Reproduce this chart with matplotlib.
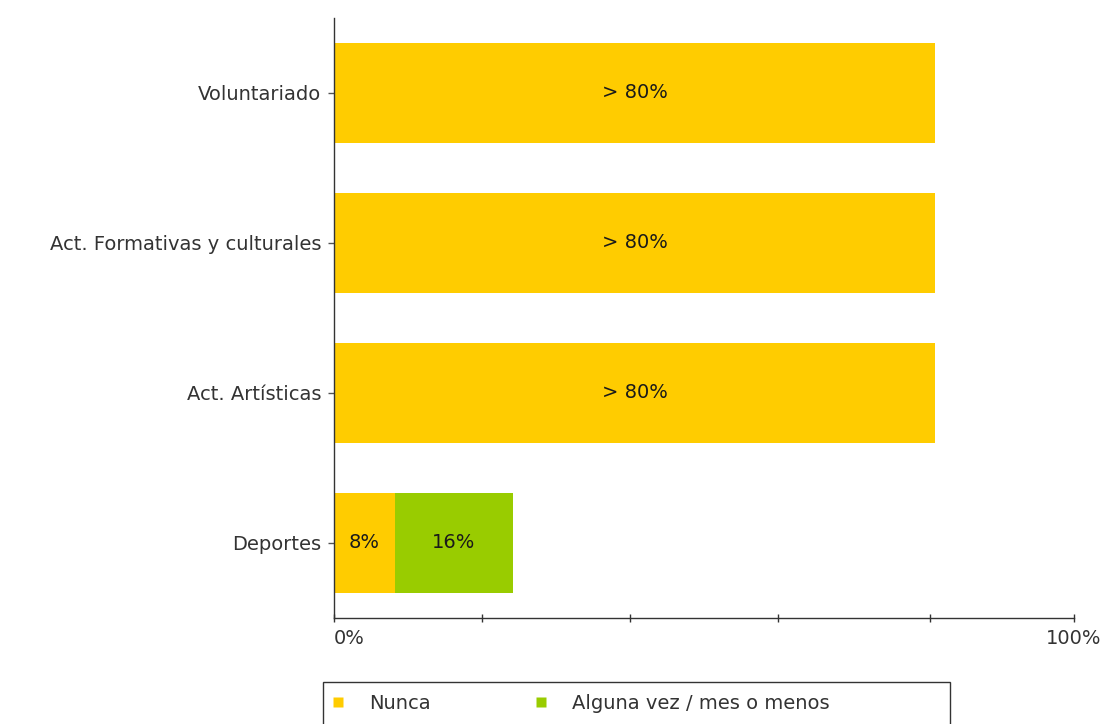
import matplotlib
matplotlib.use("Agg")
import matplotlib.pyplot as plt
from matplotlib.lines import Line2D
from matplotlib.patches import Rectangle

categories = ["Voluntariado", "Act. Formativas y culturales", "Act. Artísticas", "Deportes"]
series_names = ["Nunca", "Alguna vez / mes o menos"]
nunca = [81.2, 81.2, 81.2, 8.2]
alguna = [0, 0, 0, 16]
nunca_labels = ["> 80%", "> 80%", "> 80%", "8%"]
alguna_labels = ["", "", "", "16%"]
colors = ["#FFCC00", "#99CC00"]
xtick_vals = [0, 20, 40, 60, 80.5, 100]
xtick_labels = ["0%", "", "", "", "", "100%"]

plt.rcParams['font.family'] = ['DejaVu Sans']
W, H = 1110, 724
fig = plt.figure(figsize=(W/100, H/100), dpi=100)
ax = fig.add_axes([334/W, 1-618/H, 740/W, 600/H])

ypos = list(range(len(categories)))
h = 0.67
ax.barh(ypos, nunca, height=h, color=colors[0], linewidth=0)
ax.barh(ypos, alguna, left=nunca, height=h, color=colors[1], linewidth=0)

txtcol = "#1a1a1a"
fs = 14
for y, v, a, l1, l2 in zip(ypos, nunca, alguna, nunca_labels, alguna_labels):
    if l1:
        ax.text(v/2, y, l1, ha="center", va="center", fontsize=fs, color=txtcol)
    if l2:
        ax.text(v + a/2, y, l2, ha="center", va="center", fontsize=fs, color=txtcol)

ax.set_ylim(len(categories)-0.5, -0.5)
ax.set_xlim(0, 100)
ax.set_yticks(ypos)
ax.set_yticklabels(categories, fontsize=fs, color="#333333")
ax.set_xticks(xtick_vals)
ax.set_xticklabels(xtick_labels, fontsize=fs, color="#333333")
ax.get_xticklabels()[0].set_horizontalalignment("left")
for s in ["top", "right"]:
    ax.spines[s].set_visible(False)
for s in ["left", "bottom"]:
    ax.spines[s].set_color("#333333")
    ax.spines[s].set_linewidth(1.0)
ax.tick_params(axis="y", length=4, width=1, color="#555555", pad=5)
ax.tick_params(axis="x", length=6, width=1, color="#333333", pad=5, direction="inout")

# legend frame (extends past the bottom edge like in the reference)
fig.patches.append(Rectangle((323/W, 1-735/H), 627/W, 53/H, transform=fig.transFigure,
                             facecolor="white", edgecolor="#333333", linewidth=1.0))

handles = [Line2D([0], [0], marker="s", linestyle="none", markersize=7,
                  markerfacecolor=c, markeredgecolor="none") for c in colors]
leg = fig.legend(handles, series_names, loc="upper left",
                 bbox_to_anchor=(330/W, 1-694/H), borderaxespad=0, ncol=2,
                 frameon=False, fontsize=fs, handlelength=0.8, handletextpad=1.2,
                 columnspacing=5.3, borderpad=0, labelcolor="#333333")

fig.savefig("out.png", dpi=100)
